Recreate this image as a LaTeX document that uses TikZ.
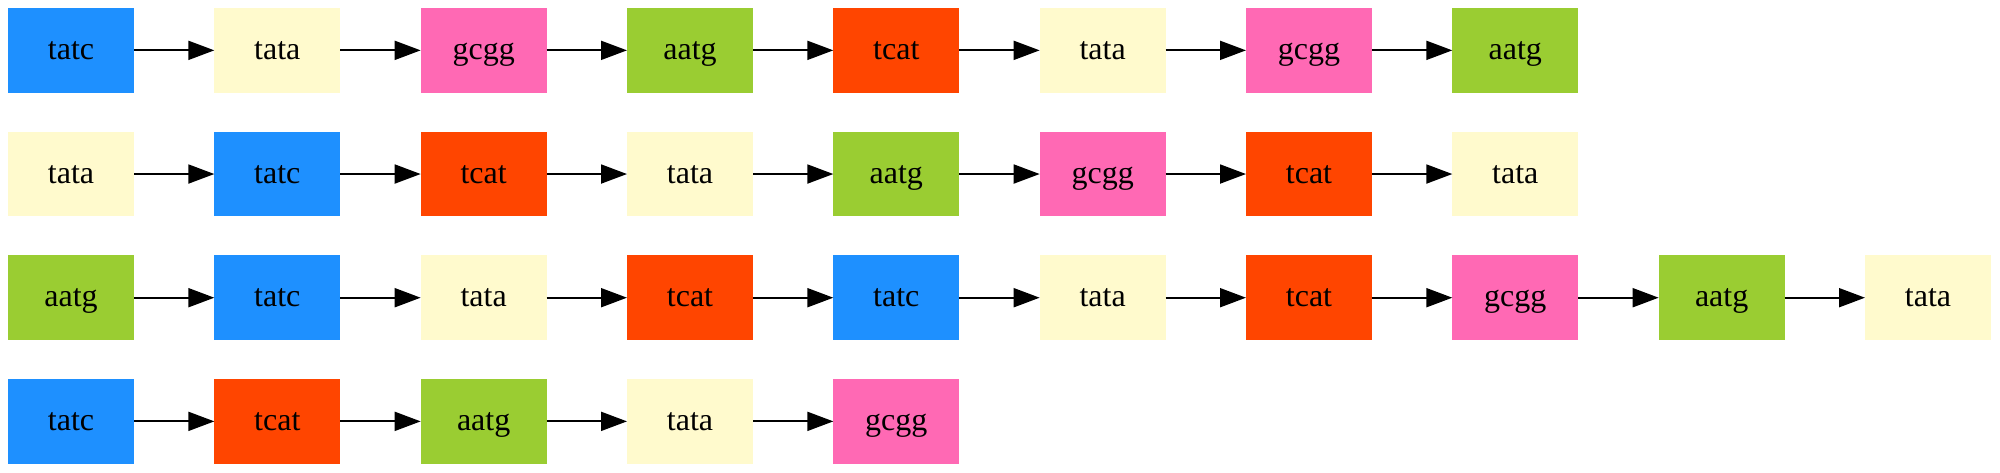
\documentclass[tikz,border=0pt]{standalone}
\usepackage{fontspec}
\setmainfont{Liberation Serif}
\usetikzlibrary{arrows.meta}
\definecolor{ctatc}{HTML}{1E90FF}
\definecolor{ctata}{HTML}{FFFACD}
\definecolor{cgcgg}{HTML}{FF69B4}
\definecolor{caatg}{HTML}{9ACD32}
\definecolor{ctcat}{HTML}{FF4500}
\begin{document}
\begin{tikzpicture}[x=0.5pt,y=-0.5pt,
  box/.style={rectangle, minimum width=63pt, minimum height=42.35pt, inner sep=0pt, outer sep=0pt,
    text height=12pt, text depth=3pt, font=\fontsize{16}{19}\selectfont},
  link/.style={-{Triangle[length=13pt,width=9.5pt]}, line width=0.95pt, black}]
\useasboundingbox (0,0) rectangle (2000,472);
\foreach \r/\seq in {1/{tatc,tata,gcgg,aatg,tcat,tata,gcgg,aatg},
                     2/{tata,tatc,tcat,tata,aatg,gcgg,tcat,tata},
                     3/{aatg,tatc,tata,tcat,tatc,tata,tcat,gcgg,aatg,tata},
                     4/{tatc,tcat,aatg,tata,gcgg}} {
  \foreach \s [count=\c] in \seq {
    \node[box, fill=c\s] (n\r-\c) at ({71+206.33*(\c-1)}, {50.35+123.67*(\r-1)}) {\s};
    \ifnum\c>1
      \pgfmathtruncatemacro\p{\c-1}
      \draw[link] (n\r-\p) -- (n\r-\c);
    \fi
  }
}
\end{tikzpicture}
\end{document}
